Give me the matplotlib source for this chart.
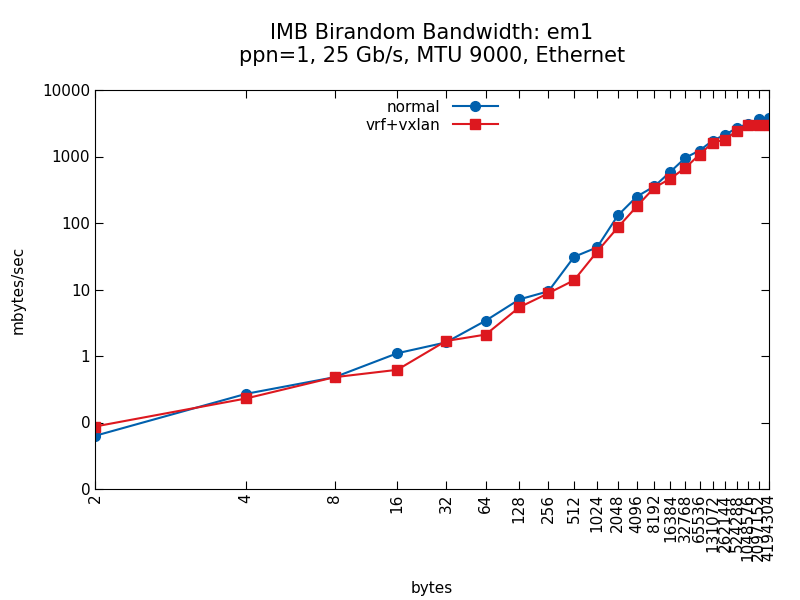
import numpy as np
import matplotlib.pyplot as plt
from matplotlib.ticker import FixedLocator, NullLocator

sizes = [2, 4, 8, 16, 32, 64, 128, 256, 512, 1024, 2048, 4096, 8192, 16384,
         32768, 65536, 131072, 262144, 524288, 1048576, 2097152, 4194304]
normal = [0.063, 0.27, 0.48, 1.1, 1.6, 3.4, 7.1, 9.4, 31, 43, 130, 250, 355, 590,
          960, 1230, 1740, 2130, 2700, 3100, 3700, 3800]
vrf = [0.087, 0.23, 0.48, 0.62, 1.68, 2.1, 5.4, 8.8, 13.8, 37, 86, 178, 340, 465,
       680, 1070, 1620, 1800, 2460, 3000, 3000, 3000]

# x axis: log scale over log2(bytes)
xpos = np.log2(sizes)

fig = plt.figure(figsize=(8, 6), dpi=100)
ax = fig.add_axes([95/800, 1-489/600, (769-95)/800, (489-90)/600])
ax.plot(xpos, normal, '-o', color='#0060ad', ms=7, lw=1.5, label='normal')
ax.plot(xpos, vrf, '-s', color='#dd181f', ms=7, lw=1.5, label='vrf+vxlan')
ax.set_xscale('log')
ax.set_yscale('log')
ax.set_xlim(1, 22)
ax.set_ylim(0.01, 10000)
ax.xaxis.set_major_locator(FixedLocator(xpos))
ax.xaxis.set_minor_locator(NullLocator())
ax.set_xticklabels([str(s) for s in sizes], rotation=90, fontsize=11)
yt = [0.01, 0.1, 1, 10, 100, 1000, 10000]
ax.yaxis.set_major_locator(FixedLocator(yt))
ax.yaxis.set_minor_locator(NullLocator())
ax.set_yticklabels(['%.0f' % v for v in yt], fontsize=11)
ax.tick_params(direction='in', top=True, right=True, length=6)
fig.text(432/800, 1-588/600, 'bytes', fontsize=11, ha='center', va='center')
ax.set_ylabel('mbytes/sec', fontsize=11, labelpad=12)
ax.set_title('IMB Birandom Bandwidth: em1\nppn=1, 25 Gb/s, MTU 9000, Ethernet', fontsize=15, pad=20)
ax.legend(loc='upper center', bbox_to_anchor=(0.5, 1.01), frameon=False, markerfirst=False,
          fontsize=11, handlelength=3, labelspacing=0.2)
fig.savefig('out.png')
